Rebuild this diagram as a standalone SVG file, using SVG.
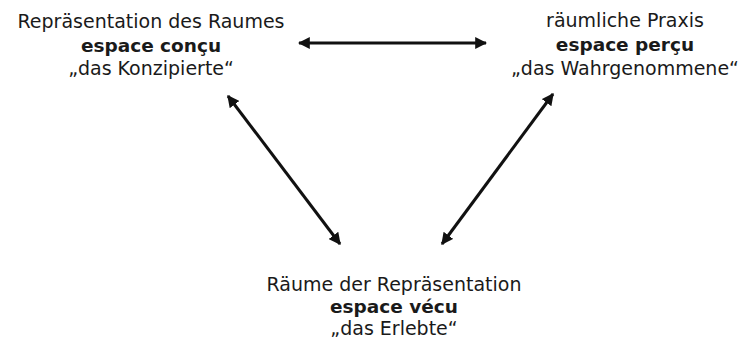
<svg xmlns="http://www.w3.org/2000/svg" width="739" height="341" viewBox="0 0 739 341">
  <style>
    text { font-family: "DejaVu Sans", Verdana, sans-serif; font-size: 19px; fill: #1a1a1a; text-anchor: middle; }
    .b { font-weight: bold; font-size: 18.5px; }
    .link { stroke: #111; stroke-width: 3; fill: none; marker-start: url(#head); marker-end: url(#head); }
  </style>
  <defs>
    <marker id="head" viewBox="0 0 10 10" refX="9" refY="5" markerWidth="4" markerHeight="4" orient="auto-start-reverse" markerUnits="strokeWidth">
      <path d="M0,0 L10,5 L0,10 z" fill="#111"/>
    </marker>
  </defs>
  <rect width="739" height="341" fill="#fff"/>

  <g id="concu">
    <text x="151" y="28">Repräsentation des Raumes</text>
    <text x="151" y="52" class="b">espace conçu</text>
    <text x="151" y="75">„das Konzipierte“</text>
  </g>

  <g id="percu">
    <text x="625" y="27">räumliche Praxis</text>
    <text x="625" y="51" class="b">espace perçu</text>
    <text x="625" y="75">„das Wahrgenommene“</text>
  </g>

  <g id="vecu">
    <text x="394" y="291">Räume der Repräsentation</text>
    <text x="394" y="313" class="b">espace vécu</text>
    <text x="394" y="335">„das Erlebte“</text>
  </g>

  <g id="connectors">
    <line class="link" x1="299" y1="43" x2="486" y2="43"/>
    <line class="link" x1="228" y1="96" x2="340" y2="244"/>
    <line class="link" x1="553" y1="94" x2="442" y2="244"/>
  </g>
</svg>
